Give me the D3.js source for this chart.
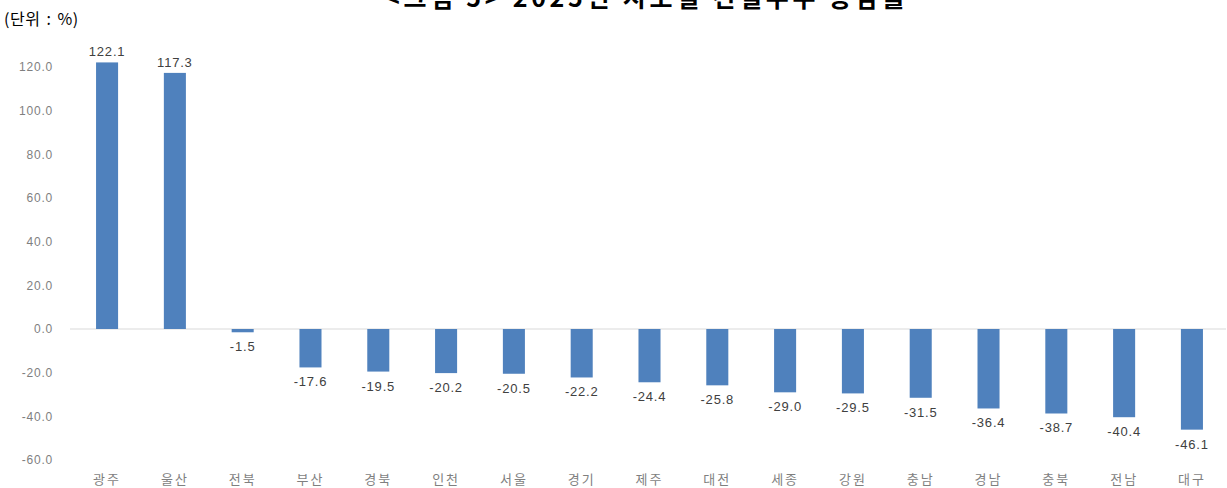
<!DOCTYPE html>
<html><head><meta charset="utf-8">
<script src="https://cdn.jsdelivr.net/npm/d3@7"></script>
<style>body{margin:0;background:#fff;}svg{display:block;font-family:"Noto Sans CJK KR","Noto Sans",sans-serif;}</style>
</head><body>
<svg id="c" width="1227" height="488"></svg>
<script>
const categories = ["광주","울산","전북","부산","경북","인천","서울","경기","제주","대전","세종","강원","충남","경남","충북","전남","대구"];
const values = [122.1,117.3,-1.5,-17.6,-19.5,-20.2,-20.5,-22.2,-24.4,-25.8,-29.0,-29.5,-31.5,-36.4,-38.7,-40.4,-46.1];
const yTicks = [-60,-40,-20,0,20,40,60,80,100,120];
const titleText = "<그림 5> 2025년 시도별 건설수주 증감률";
const unitText = "(단위 : %)";

const fmt = v => d3.format(".1f")(v).replace("\u2212","-");
const svg = d3.select("#c");
const x = d3.scaleBand().domain(categories).range([73, 1226]).paddingInner(0.675).paddingOuter(0.34);
const y = d3.scaleLinear().domain([-60, 120]).range([460, 67]);

svg.append("text").attr("x", 385).attr("y", 7).attr("text-anchor","start")
  .attr("font-size", 25).attr("font-weight","bold").attr("fill","#000")
  .attr("textLength", 520).attr("lengthAdjust","spacing").text(titleText);
svg.append("text").attr("x", 4).attr("y", 25).attr("font-size", 16).attr("fill","#000")
  .attr("letter-spacing", 0.5).attr("word-spacing", 2)
  .attr("font-family","'Noto Sans CJK KR',sans-serif").text(unitText);

const yAxis = svg.append("g").attr("transform","translate(53,0)")
  .call(d3.axisLeft(y).tickValues(yTicks).tickFormat(fmt).tickSize(0).tickPadding(0));
yAxis.select(".domain").remove();
yAxis.selectAll("text").attr("font-size", 12).attr("letter-spacing", 0.8).attr("fill","#7f7f7f")
  .attr("font-family","'Liberation Sans',Arial,sans-serif");

svg.append("line").attr("x1", 70).attr("x2", 1226).attr("y1", y(0)).attr("y2", y(0))
  .attr("stroke","#d9d9d9").attr("stroke-width",1);

svg.selectAll("rect.bar").data(values).join("rect").attr("class","bar")
  .attr("x", (d,i)=>x(categories[i])).attr("width", x.bandwidth())
  .attr("y", d=>y(Math.max(0,d))).attr("height", d=>Math.abs(y(d)-y(0)))
  .attr("fill","#4f81bd");

svg.selectAll("text.lbl").data(values).join("text").attr("class","lbl")
  .attr("x", (d,i)=>x(categories[i]) + x.bandwidth()/2)
  .attr("y", d=> d>=0 ? y(d)-6 : y(d)+19)
  .attr("text-anchor","middle").attr("font-size",13).attr("letter-spacing", 0.8).attr("fill","#404040")
  .attr("font-family","'Liberation Sans',Arial,sans-serif")
  .text(d=>fmt(d));

const xAxis = svg.append("g").attr("transform","translate(0,475)")
  .call(d3.axisBottom(x).tickSize(0).tickPadding(0));
xAxis.select(".domain").remove();
xAxis.selectAll("text").attr("font-size",13).attr("letter-spacing", 2).attr("fill","#7f7f7f")
  .attr("font-family","'Noto Sans CJK KR',sans-serif").attr("dy","0.71em");
</script>
</body></html>
